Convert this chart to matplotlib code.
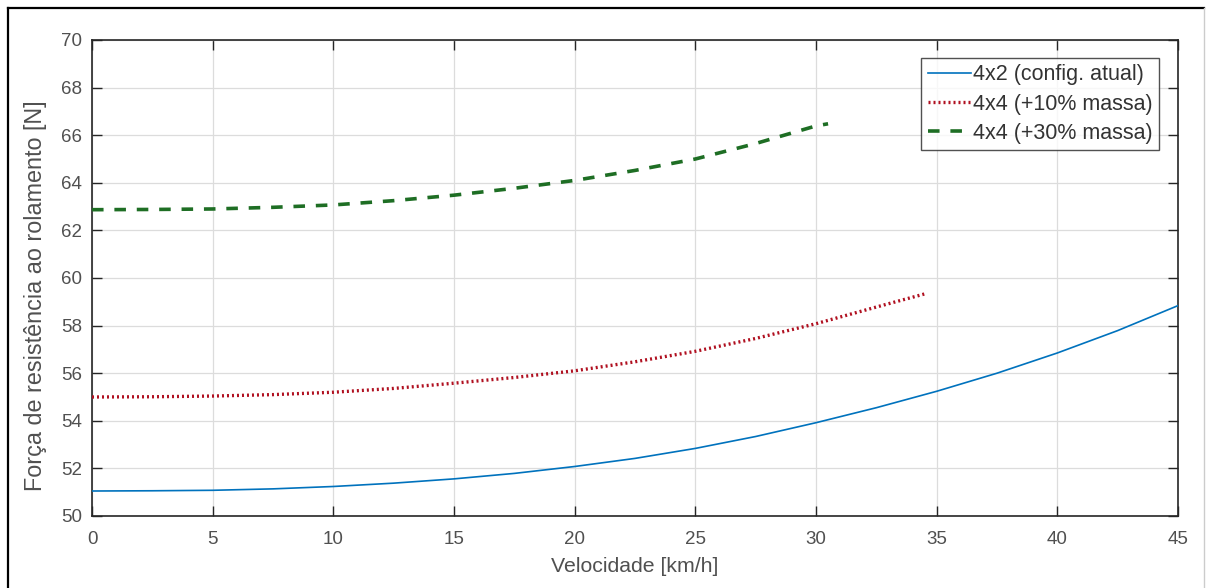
import matplotlib
matplotlib.use("Agg")
import matplotlib.pyplot as plt
from matplotlib.lines import Line2D

plt.rcParams['font.family'] = ['Liberation Sans', 'DejaVu Sans']

# Data
v_4x2 = [0, 2.5, 5, 7.5, 10, 12.5, 15, 17.5, 20, 22.5, 25, 27.5, 30, 32.5, 35, 37.5, 40, 42.5, 45]
f_4x2 = [51.05, 51.06, 51.08, 51.14, 51.24, 51.38, 51.56, 51.79, 52.08, 52.42, 52.84, 53.34, 53.92,
         54.55, 55.24, 56.0, 56.85, 57.79, 58.84]

v_4x4_10 = [0, 2.5, 5, 7.5, 10, 12.5, 15, 17.5, 20, 22.5, 25, 27.5, 30, 32.5, 34.5]
f_4x4_10 = [55.0, 55.01, 55.04, 55.1, 55.2, 55.36, 55.58, 55.82, 56.1, 56.48, 56.92, 57.46, 58.08,
            58.78, 59.33]

v_4x4_30 = [0, 2.5, 5, 7.5, 10, 12.5, 15, 17.5, 20, 22.5, 25, 27.5, 30, 30.5]
f_4x4_30 = [62.87, 62.88, 62.9, 62.97, 63.07, 63.25, 63.48, 63.77, 64.1, 64.52, 65.0, 65.65, 66.39, 66.48]

labels = ['4x2 (config. atual)', '4x4 (+10% massa)', '4x4 (+30% massa)']
x_ticks = [0, 5, 10, 15, 20, 25, 30, 35, 40, 45]
y_ticks = [50, 52, 54, 56, 58, 60, 62, 64, 66, 68, 70]

W, H = 1206, 588
fig = plt.figure(figsize=(W / 100, H / 100), dpi=100)
ax = fig.add_axes([92 / W, (H - 516) / H, (1178 - 92) / W, (516 - 40) / H])

ax.plot(v_4x2, f_4x2, color='#0072BD', lw=1.2, label=labels[0], zorder=3)
ax.plot(v_4x4_10, f_4x4_10, color='#B01020', lw=2.4, linestyle=(0, (0.6, 0.9)),
        label=labels[1], zorder=3)
ax.plot(v_4x4_30, f_4x4_30, color='#1E6E24', lw=2.6, linestyle=(0, (3.2, 3.0)),
        label=labels[2], zorder=3)

ax.set_xlim(0, 45)
ax.set_ylim(50, 70)
ax.set_xticks(x_ticks)
ax.set_yticks(y_ticks)
ax.grid(True, color='#dcdcdc', lw=0.9)
ax.set_axisbelow(True)

edge = '#262626'
for s in ax.spines.values():
    s.set_color(edge)
    s.set_linewidth(1.2)
ax.tick_params(axis='both', direction='in', length=7.5, width=1.0, colors=edge,
               labelcolor='#505050', labelsize=13.5, top=True, right=True)
ax.tick_params(axis='x', pad=11)
ax.tick_params(axis='y', pad=7)

ax.set_xlabel('Velocidade [km/h]', fontsize=15.3, color='#505050')
ax.set_ylabel('Força de resistência ao rolamento [N]', fontsize=16.8, color='#505050')
ax.xaxis.set_label_coords(0.5, (516 - 557) / 476)
ax.yaxis.set_label_coords((47 - 92) / 1086, (516 - 296) / 476)

leg = ax.legend(loc='upper right', bbox_to_anchor=(1159 / W, (H - 58) / H),
                bbox_transform=fig.transFigure, fontsize=15.5, frameon=True, fancybox=False,
                edgecolor='#262626', handlelength=2.0, handletextpad=0.1, borderpad=0.3,
                labelspacing=0.38, borderaxespad=0)
leg.get_frame().set_linewidth(1.0)
for t in leg.get_texts():
    t.set_color('#333333')

# Figure border
fig.add_artist(Line2D([8 / W, 8 / W], [0, 1 - 8 / H], transform=fig.transFigure, color='black', lw=1.6))
fig.add_artist(Line2D([8 / W, 1204 / W], [1 - 8 / H, 1 - 8 / H], transform=fig.transFigure, color='black', lw=1.6))
fig.add_artist(Line2D([1204 / W, 1204 / W], [0, 1 - 8 / H], transform=fig.transFigure, color='#cccccc', lw=1.0))

fig.savefig('out.png', dpi=100)
